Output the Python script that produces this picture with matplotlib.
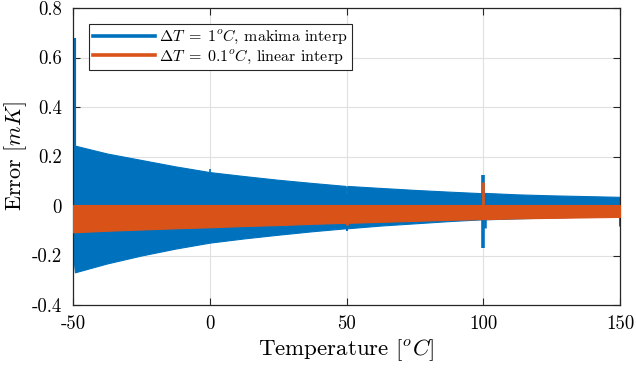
import matplotlib
matplotlib.use("Agg")
import matplotlib.pyplot as plt

# ---- data ----
temp_env = [-50, -49.3, -37.5, -25, -12.5, 0, 12.5, 25, 37.5, 49.7, 50.0, 50.3, 62.5, 75,
            87.5, 99.2, 99.7, 100.3, 112.5, 125, 137.5, 150]
makima_upper = [0.24, 0.244, 0.212, 0.186, 0.16, 0.137, 0.121, 0.106, 0.093, 0.081, 0.05, 0.081,
                0.073, 0.065, 0.058, 0.052, 0.025, 0.053, 0.047, 0.043, 0.04, 0.037]
makima_lower = [-0.19, -0.268, -0.232, -0.2, -0.172, -0.148, -0.131, -0.116, -0.102, -0.09, -0.09,
                -0.09, -0.079, -0.07, -0.061, -0.054, -0.054, -0.054, -0.05, -0.046, -0.043, -0.04]
linear_upper = [0.004] * len(temp_env)
linear_lower = [-0.106, -0.106, -0.1, -0.095, -0.09, -0.086, -0.081, -0.077, -0.072, -0.068, -0.068,
                -0.068, -0.064, -0.06, -0.056, -0.053, -0.053, -0.053, -0.05, -0.048, -0.046, -0.044]

# isolated spikes (temperature, low, high)
makima_spike_t = [-49.6, 0, 50, 100, 100.6, 150]
makima_spike_lo = [0.2, 0.1, -0.1, -0.17, -0.09, -0.08]
makima_spike_hi = [0.68, 0.148, -0.06, 0.125, -0.03, -0.02]
makima_spike_w = [3.0, 1.2, 1.5, 2.6, 1.8, 2.2]
linear_spike_t = [50, 100]
linear_spike_lo = [-0.075, -0.02]
linear_spike_hi = [-0.03, 0.098]

xticks = [-50, 0, 50, 100, 150]
xticklabels = ["-50", "0", "50", "100", "150"]
yticks = [-0.4, -0.2, 0, 0.2, 0.4, 0.6, 0.8]
yticklabels = ["-0.4", "-0.2", "0", "0.2", "0.4", "0.6", "0.8"]

label_makima = r"$\Delta T \;=\; 1^oC$, makima interp"
label_linear = r"$\Delta T \;=\; 0.1^oC$, linear interp"

# ---- style ----
plt.rcParams["font.family"] = ["cmr10", "DejaVu Serif"]
plt.rcParams["mathtext.fontset"] = "cm"
plt.rcParams["axes.unicode_minus"] = False

blue = "#0072BD"
orange = "#D95319"

fig = plt.figure(figsize=(6.36, 3.71), dpi=100)
ax = fig.add_axes([73 / 636, 1 - 305 / 371, (620 - 73) / 636, (305 - 8) / 371])

ax.fill_between(temp_env, makima_lower, makima_upper, color=blue, lw=0.8, zorder=2)
ax.vlines(makima_spike_t, makima_spike_lo, makima_spike_hi, color=blue, lw=makima_spike_w, zorder=2)
ax.fill_between(temp_env, linear_lower, linear_upper, color=orange, lw=0.8, zorder=3)
ax.vlines(linear_spike_t, linear_spike_lo, linear_spike_hi, color=orange, lw=2.0, zorder=3)

# legend proxies
ax.plot([], [], color=blue, lw=2.6, label=label_makima)
ax.plot([], [], color=orange, lw=2.6, label=label_linear)

ax.set_xlim(-50, 150)
ax.set_ylim(-0.4, 0.8)
ax.set_xticks(xticks)
ax.set_xticklabels(xticklabels)
ax.set_yticks(yticks)
ax.set_yticklabels(yticklabels)
ax.tick_params(direction="in", length=5, width=0.8, top=True, right=True,
               labelsize=13.5, colors="#262626", labelcolor="black")
ax.tick_params(axis="x", pad=7)
ax.tick_params(axis="y", pad=8)
ax.grid(True, color="#e0e0e0", lw=0.8, zorder=0)
ax.set_axisbelow(True)
for s in ax.spines.values():
    s.set_color("#262626")
    s.set_linewidth(0.9)

ax.set_xlabel(r"Temperature [$^oC$]", fontsize=16.5, labelpad=3)
ax.set_ylabel(r"Error [$mK$]", fontsize=16, labelpad=2)

leg = ax.legend(loc="upper left", bbox_to_anchor=(0.029, 0.945), fontsize=11.5,
                frameon=True, fancybox=False, edgecolor="#262626", framealpha=1,
                handlelength=3.9, handletextpad=0.25, borderpad=0.25, labelspacing=0.1,
                borderaxespad=0)
leg.get_frame().set_linewidth(0.8)

fig.savefig("out.png", dpi=100)
